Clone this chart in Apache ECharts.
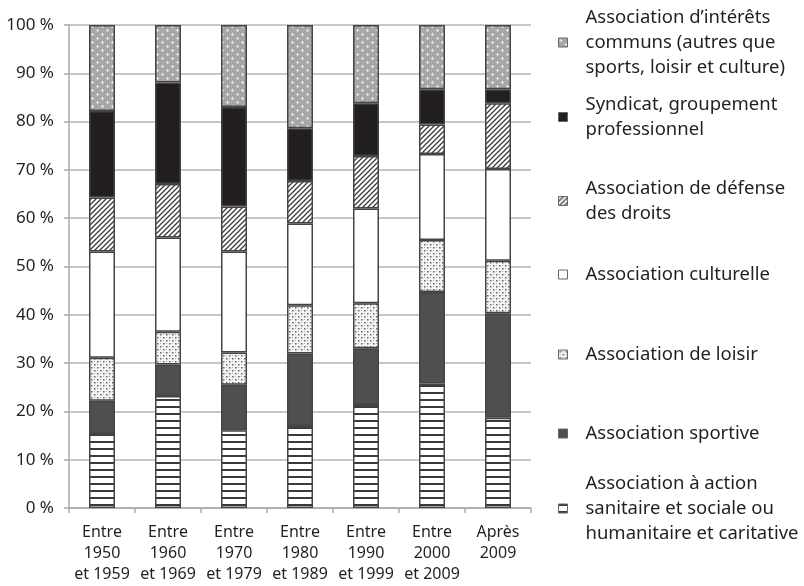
<!DOCTYPE html>
<html><head><meta charset="utf-8">
<script src="https://cdn.jsdelivr.net/npm/echarts@6/dist/echarts.min.js"></script>
<style>html,body{margin:0;padding:0;background:#fff}#c{width:804px;height:586px}</style>
</head><body><div id="c"></div>
<script>
const categories = ['Entre\n1950\net 1959','Entre\n1960\net 1969','Entre\n1970\net 1979','Entre\n1980\net 1989','Entre\n1990\net 1999','Entre\n2000\net 2009','Après\n2009'];
const sanitaire  = [15.3, 23.2, 16.1, 17.0, 21.3, 25.8, 18.7];
const sportive   = [6.9, 6.5, 9.4, 15.0, 11.8, 18.9, 21.6];
const loisir     = [8.9, 6.8, 6.7, 10.0, 9.3, 10.8, 10.9];
const culturelle = [22.0, 19.5, 20.9, 16.9, 19.6, 17.8, 19.0];
const defense    = [11.2, 11.1, 9.3, 8.8, 10.9, 6.1, 13.6];
const syndicat   = [17.9, 21.0, 20.6, 10.9, 10.9, 7.3, 2.9];
const interets   = [17.8, 11.9, 17.0, 21.4, 16.2, 13.3, 13.3];

const names = {
  sanitaire: 'Association à action sanitaire et sociale ou humanitaire et caritative',
  sportive: 'Association sportive',
  loisir: 'Association de loisir',
  culturelle: 'Association culturelle',
  defense: 'Association de défense des droits',
  syndicat: 'Syndicat, groupement professionnel',
  interets: 'Association d’intérêts communs (autres que sports, loisir et culture)'
};
const legendText = {};
legendText[names.sanitaire] = 'Association à action\nsanitaire et sociale ou\nhumanitaire et caritative';
legendText[names.sportive] = 'Association sportive';
legendText[names.loisir] = 'Association de loisir';
legendText[names.culturelle] = 'Association culturelle';
legendText[names.defense] = 'Association de défense\ndes droits';
legendText[names.syndicat] = 'Syndicat, groupement\nprofessionnel';
legendText[names.interets] = 'Association d’intérêts\ncommuns (autres que\nsports, loisir et culture)';

function pat(w, h, draw) {
  const c = document.createElement('canvas'); c.width = w; c.height = h;
  const g = c.getContext('2d'); draw(g, w, h); return c;
}
const pHoriz = pat(4, 7, (g, w, h) => { g.fillStyle = '#fff'; g.fillRect(0,0,w,h); g.fillStyle = '#3a3a3a'; g.fillRect(0,0,w,2); });
const pDiag = pat(5, 5, (g, w, h) => {
  g.fillStyle = '#fff'; g.fillRect(0,0,w,h);
  g.strokeStyle = '#3a3a3a'; g.lineWidth = 1.3;
  g.beginPath(); g.moveTo(-1, h+1); g.lineTo(w+1, -1); g.moveTo(-1, 1); g.lineTo(1, -1); g.moveTo(w-1, h+1); g.lineTo(w+1, h-1); g.stroke();
});
const pDots = pat(6, 6, (g, w, h) => {
  g.fillStyle = '#f4f4f4'; g.fillRect(0,0,w,h);
  g.fillStyle = '#666'; g.fillRect(1,1,1.5,1.5); g.fillRect(4,4,1.5,1.5);
  g.fillStyle = '#aaa'; g.fillRect(4,1,1,1); g.fillRect(1,4,1,1);
});
const pGray = pat(10, 8, (g, w, h) => {
  g.fillStyle = '#ababab'; g.fillRect(0,0,w,h);
  g.fillStyle = '#9c9c9c';
  for (let x = 0; x < w; x += 2) for (let y = (x/2)%2; y < h; y += 2) g.fillRect(x, y, 1, 1);
  g.fillStyle = '#e6e6e6';
  g.fillRect(2,1,1,3); g.fillRect(1,2,3,1);
  g.fillRect(7,5,1,3); g.fillRect(6,6,3,1);
});

const border = { borderColor: '#444', borderWidth: 1.5 };
function mk(key, data, color) {
  return { name: names[key], type: 'bar', stack: 'a', barWidth: 26, data: data,
    itemStyle: Object.assign({ color: color }, border), emphasis: { disabled: true } };
}
const series = [
  mk('sanitaire', sanitaire, { image: pHoriz, repeat: 'repeat' }),
  mk('sportive', sportive, '#4f4f4f'),
  mk('loisir', loisir, { image: pDots, repeat: 'repeat' }),
  mk('culturelle', culturelle, '#ffffff'),
  mk('defense', defense, { image: pDiag, repeat: 'repeat' }),
  mk('syndicat', syndicat, '#231f20'),
  mk('interets', interets, { image: pGray, repeat: 'repeat' })
];

const legendFont = { fontFamily: 'Noto Sans', fontSize: 18.5, color: '#231f20', lineHeight: 25, padding: [0,0,0,13] };
function lg(key, top) {
  return { data: [names[key]], left: 558, top: top, padding: 0, orient: 'vertical', itemWidth: 9, itemHeight: 9,
    icon: 'rect', selectedMode: false, formatter: n => legendText[n], textStyle: legendFont,
    itemStyle: { borderColor: '#666', borderWidth: 1 } };
}

const chart = echarts.init(document.getElementById('c'), null, { renderer: 'canvas' });
chart.setOption({
  animation: false,
  backgroundColor: '#fff',
  grid: { left: 69, right: 273, top: 25, bottom: 78, containLabel: false },
  legend: [
    lg('interets', 5), lg('syndicat', 92), lg('defense', 176), lg('culturelle', 262),
    lg('loisir', 342), lg('sportive', 421), lg('sanitaire', 471)
  ],
  xAxis: {
    type: 'category', data: categories,
    axisLine: { show: true, lineStyle: { color: '#aaa', width: 1.5 } },
    axisTick: { show: true, length: 5, lineStyle: { color: '#aaa', width: 1.5 } },
    axisLabel: { fontFamily: 'Noto Sans', fontSize: 16, color: '#231f20', lineHeight: 21, margin: 14, interval: 0 }
  },
  yAxis: {
    type: 'value', min: 0, max: 100, interval: 10,
    axisLine: { show: true, lineStyle: { color: '#aaa', width: 1.5 } },
    axisTick: { show: true, length: 5, lineStyle: { color: '#aaa', width: 1.5 } },
    splitLine: { show: true, lineStyle: { color: '#b5b5b5', width: 1.5 } },
    axisLabel: { fontFamily: 'Noto Sans', fontSize: 17, color: '#231f20', margin: 15, formatter: '{value} %', padding: [5,0,0,0] }
  },
  series: series
});
</script></body></html>
